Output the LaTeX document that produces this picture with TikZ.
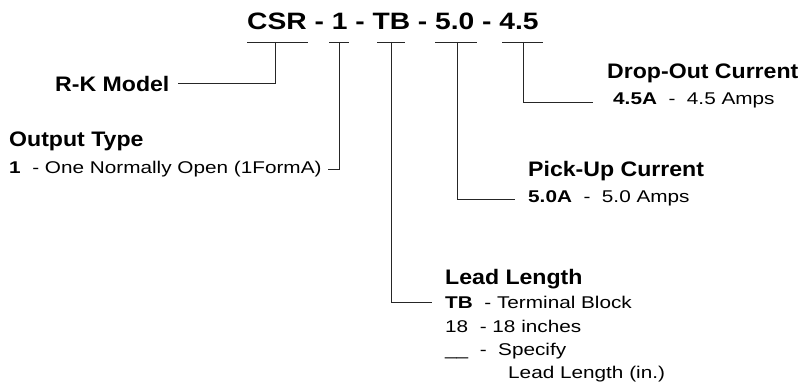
\documentclass[tikz,border=0pt]{standalone}
\usepackage{fontspec}
\setmainfont{Liberation Sans}
\usepackage{graphicx}
\newcommand{\hsq}[2]{\scalebox{#1}[1]{#2}}
\begin{document}
\begin{tikzpicture}[x=1pt,y=-1pt,
  titletext/.style={inner sep=0pt,anchor=base west,font=\fontsize{23.7}{28}\selectfont\bfseries},
  headtext/.style={inner sep=0pt,anchor=base west,font=\fontsize{21}{25}\selectfont\bfseries},
  bodytext/.style={inner sep=0pt,anchor=base west,font=\fontsize{17}{20}\selectfont},
  wire/.style={line width=0.9pt,draw=black!85}]
\useasboundingbox (0,0) rectangle (800,390);

% title
\node[titletext] (code) at (247,30) {\hsq{1.19}{CSR - 1 - TB - 5.0 - 4.5}};

% bar coordinates
\coordinate (csrL) at (247,42); \coordinate (csrR) at (308,42); \coordinate (csrD) at (275,42);
\coordinate (oneL) at (329,42); \coordinate (oneR) at (349,42); \coordinate (oneD) at (339,42);
\coordinate (tbL)  at (377,42); \coordinate (tbR)  at (405,42); \coordinate (tbD)  at (391,42);
\coordinate (puL)  at (435,42); \coordinate (puR)  at (477,42); \coordinate (puD)  at (457,42);
\coordinate (doL)  at (502,42); \coordinate (doR)  at (543,42); \coordinate (doD)  at (523,42);

\draw[wire] (csrL) -- (csrR);
\draw[wire] (oneL) -- (oneR);
\draw[wire] (tbL) -- (tbR);
\draw[wire] (puL) -- (puR);
\draw[wire] (doL) -- (doR);

% labels
\node[headtext] (rk) at (55,92) {\hsq{1.1}{R-K Model}};

\node[headtext] (outhead) at (9,147) {\hsq{1.1}{Output Type}};
\node[bodytext] (outline) at (9,174) {\hsq{1.22}{\textbf{1}\ \ - One Normally Open (1FormA)}};

\node[headtext] (dohead) at (607,79) {\hsq{1.1}{Drop-Out Current}};
\node[bodytext] (doline) at (613,105) {\hsq{1.22}{\textbf{4.5A}\ \ -\ \ 4.5 Amps}};

\node[headtext] (puhead) at (528,177) {\hsq{1.1}{Pick-Up Current}};
\node[bodytext] (puline) at (528,203) {\hsq{1.22}{\textbf{5.0A}\ \ -\ \ 5.0 Amps}};

\node[headtext] (llhead) at (445,284) {\hsq{1.1}{Lead Length}};
\node[bodytext] (llone) at (445,308) {\hsq{1.22}{\textbf{TB}\ \ - Terminal Block}};
\node[bodytext] (lltwo) at (445,332) {\hsq{1.22}{18\ \ - 18 inches}};
\node[bodytext] (llthree) at (445,355) {\hsq{1.22}{\_\_\ \ -\ \ Specify}};
\node[bodytext] (llfour) at (508,378) {\hsq{1.22}{Lead Length (in.)}};

% connector ends
\coordinate (rkE) at (178,83);
\coordinate (outE) at (328,169);
\coordinate (llE) at (432,302);
\coordinate (puE) at (515,199);
\coordinate (doE) at (593,102);

\draw[wire] (csrD) |- (rkE);
\draw[wire] (oneD) |- (outE);
\draw[wire] (tbD) |- (llE);
\draw[wire] (puD) |- (puE);
\draw[wire] (doD) |- (doE);
\end{tikzpicture}
\end{document}
